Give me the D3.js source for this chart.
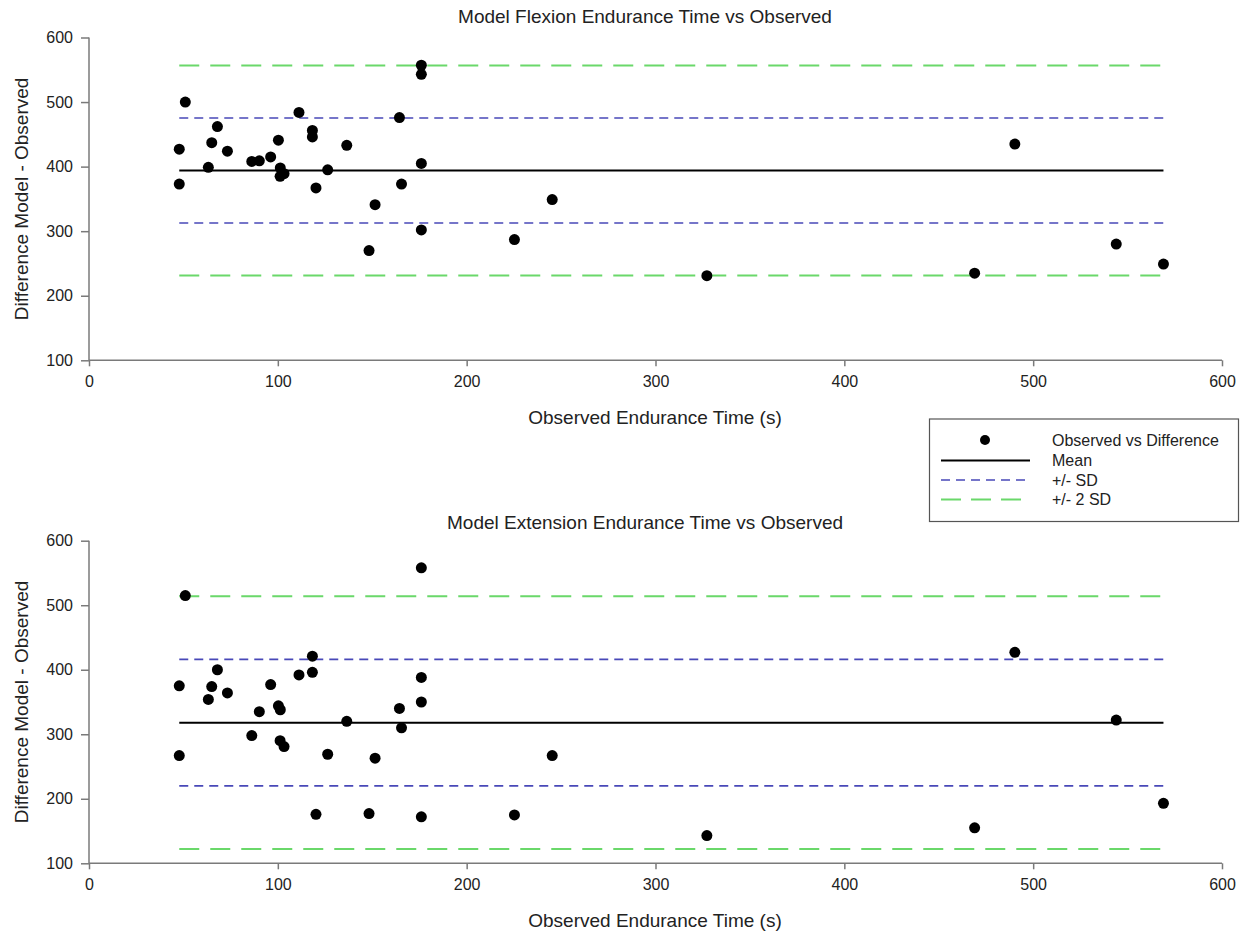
<!DOCTYPE html>
<html>
<head>
<meta charset="utf-8">
<script src="https://cdn.jsdelivr.net/npm/d3@7"></script>
<style>
  html, body { margin: 0; padding: 0; background: #fff; }
  svg { display: block; font-family: "Liberation Sans", Arial, sans-serif; }
</style>
</head>
<body>
<svg id="chart" width="1256" height="934"></svg>
<script>
// ---- Data ----
const observedTime = [47.8, 47.8, 51, 63.2, 65, 68, 73.3, 86.2, 90.2, 96.2, 100.3, 101.3, 101.2, 103.3,
  111.2, 118.3, 118.3, 120.2, 126.4, 136.5, 148.3, 151.5, 164.4, 165.5, 176, 176, 176, 176,
  225.3, 245.3, 327.2, 469, 490.3, 544, 569];

const flexionDiff = [427, 373, 500, 399, 437, 462, 424, 408, 409, 415, 441, 398, 385, 389,
  484, 456, 446, 367, 395, 433, 270, 341, 476, 373, 557, 543, 405, 302,
  287, 349, 231, 235, 435, 280, 249];

const extensionDiff = [375, 267, 515, 354, 374, 400, 364, 298, 335, 377, 344, 338, 290, 281,
  392, 421, 396, 176, 269, 320, 177, 263, 340, 310, 558, 388, 350, 172,
  175, 267, 143, 155, 427, 322, 193];

const flexionStats = [394, 81.3];     // mean, SD
const extensionStats = [318, 98];     // mean, SD

const xTickValues = [0, 100, 200, 300, 400, 500, 600];
const yTickValues = [100, 200, 300, 400, 500, 600];

const panelTitles = ["Model Flexion Endurance Time vs Observed", "Model Extension Endurance Time vs Observed"];
const xAxisTitle = "Observed Endurance Time (s)";
const yAxisTitle = "Difference Model - Observed";
const legendLabels = ["Observed vs Difference", "Mean", "+/- SD", "+/- 2 SD"];

// ---- Styles ----
const axisColor = "#7a7a7a";
const textColor = "#222";
const blue = "#4848b8";
const green = "#6ad86a";

const svg = d3.select("#chart");

const x = d3.scaleLinear().domain([0, 600]).range([89, 1222]);

function drawPanel(diffs, stats, title, yTop, yBottom, titleY, xTitleY) {
  const y = d3.scaleLinear().domain([100, 600]).range([yBottom, yTop]);
  const g = svg.append("g");

  // title
  g.append("text").attr("x", 645).attr("y", titleY).attr("text-anchor", "middle")
    .attr("dominant-baseline", "central").attr("font-size", 19).attr("fill", textColor).text(title);

  // axes
  const yAxis = d3.axisLeft(y).tickValues(yTickValues).tickSize(8).tickPadding(8).tickFormat(d3.format("d"));
  const ya = g.append("g").attr("transform", `translate(${x(0)},0)`).call(yAxis);
  const xAxis = d3.axisBottom(x).tickValues(xTickValues).tickSize(6).tickPadding(9).tickFormat(d3.format("d"));
  const xa = g.append("g").attr("transform", `translate(0,${y(100)})`).call(xAxis);
  [ya, xa].forEach(a => {
    a.select(".domain").attr("stroke", axisColor).attr("stroke-width", 1.5);
    a.selectAll(".tick line").attr("stroke", axisColor).attr("stroke-width", 1.5);
    a.selectAll(".tick text").attr("font-size", 16).attr("fill", textColor)
      .attr("font-family", "Liberation Sans, Arial, sans-serif");
  });
  ya.select(".domain").attr("d", `M0,${y(600)}V${y(100)}`);
  xa.select(".domain").attr("d", `M${x(0)},0H${x(600)}`);

  // axis titles
  g.append("text").attr("x", 655).attr("y", xTitleY).attr("text-anchor", "middle")
    .attr("dominant-baseline", "central").attr("font-size", 19).attr("fill", textColor).text(xAxisTitle);
  const cy = (y(600) + y(100)) / 2;
  g.append("text").attr("transform", `translate(21,${cy}) rotate(-90)`).attr("text-anchor", "middle")
    .attr("dominant-baseline", "central").attr("font-size", 19).attr("fill", textColor).text(yAxisTitle);

  // reference lines
  const [mean, sd] = stats;
  const xmin = d3.min(observedTime), xmax = d3.max(observedTime);
  const lines = [
    { v: mean + 2 * sd, c: green, w: 2, dash: "20,11" },
    { v: mean - 2 * sd, c: green, w: 2, dash: "20,11" },
    { v: mean + sd, c: blue, w: 1.6, dash: "9,6" },
    { v: mean - sd, c: blue, w: 1.6, dash: "9,6" },
    { v: mean, c: "#000", w: 2, dash: null }
  ];
  g.selectAll("line.ref").data(lines).join("line").attr("class", "ref")
    .attr("x1", x(xmin)).attr("x2", x(xmax))
    .attr("y1", d => y(d.v)).attr("y2", d => y(d.v))
    .attr("stroke", d => d.c).attr("stroke-width", d => d.w)
    .attr("stroke-dasharray", d => d.dash);

  // points
  g.selectAll("circle.pt").data(observedTime.map((t, i) => [t, diffs[i]])).join("circle")
    .attr("class", "pt").attr("cx", d => x(d[0])).attr("cy", d => y(d[1])).attr("r", 5.5).attr("fill", "#000");
}

drawPanel(flexionDiff, flexionStats, panelTitles[0], 37.5, 360.3, 16, 417.5);
drawPanel(extensionDiff, extensionStats, panelTitles[1], 540.7, 863.3, 522, 920.5);

// ---- Legend ----
const lg = svg.append("g");
lg.append("rect").attr("x", 929.5).attr("y", 419).attr("width", 309).attr("height", 102.5)
  .attr("fill", "#fff").attr("stroke", "#555").attr("stroke-width", 1.2);
const rowY = [440, 460.5, 480, 499.5];
lg.append("circle").attr("cx", 985).attr("cy", rowY[0]).attr("r", 5).attr("fill", "#000");
lg.append("line").attr("x1", 941).attr("x2", 1030).attr("y1", rowY[1]).attr("y2", rowY[1])
  .attr("stroke", "#000").attr("stroke-width", 2);
lg.append("line").attr("x1", 941).attr("x2", 1030).attr("y1", rowY[2]).attr("y2", rowY[2])
  .attr("stroke", blue).attr("stroke-width", 1.6).attr("stroke-dasharray", "9,6");
lg.append("line").attr("x1", 941).attr("x2", 1021).attr("y1", rowY[3]).attr("y2", rowY[3])
  .attr("stroke", green).attr("stroke-width", 2).attr("stroke-dasharray", "20,10");
lg.selectAll("text").data(legendLabels).join("text")
  .attr("x", 1052).attr("y", (d, i) => rowY[i]).attr("dominant-baseline", "central")
  .attr("font-size", 16).attr("fill", textColor).text(d => d);
</script>
</body>
</html>
